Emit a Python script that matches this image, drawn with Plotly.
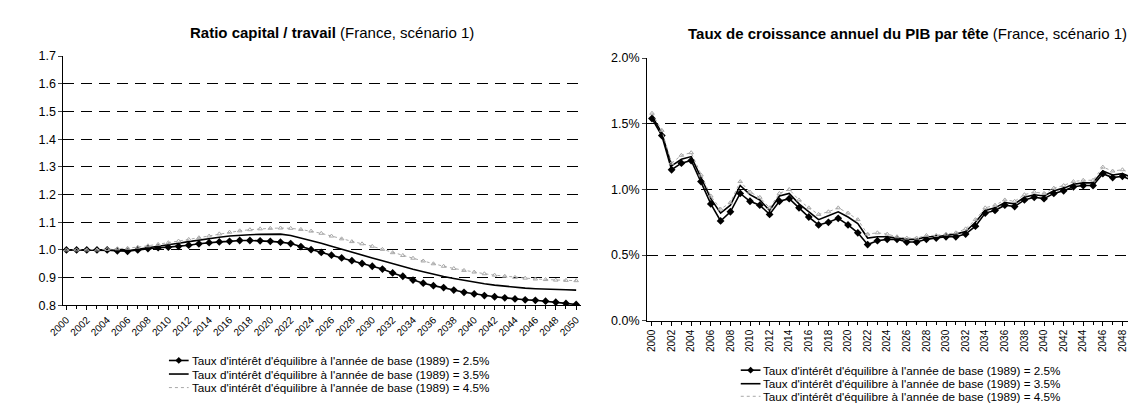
import plotly.graph_objects as go

years = list(range(2000, 2051))

# Ratio capital / travail
k25 = [1.000,1.000,1.000,1.000,1.000,0.997,0.995,1.000,1.005,1.008,
       1.010,1.013,1.017,1.022,1.026,1.029,1.031,1.034,1.034,1.033,
       1.031,1.028,1.023,1.012,1.001,0.991,0.981,0.971,0.961,0.951,
       0.941,0.931,0.917,0.905,0.891,0.880,0.871,0.864,0.855,0.847,
       0.841,0.835,0.831,0.827,0.823,0.820,0.818,0.815,0.811,0.807,
       0.803]
k35 = [1.000,1.000,1.000,1.000,1.000,0.998,0.997,1.002,1.008,1.013,
       1.018,1.024,1.030,1.036,1.041,1.046,1.050,1.053,1.055,1.056,
       1.057,1.057,1.052,1.043,1.034,1.024,1.013,1.002,0.992,0.982,
       0.971,0.961,0.950,0.940,0.930,0.921,0.912,0.904,0.897,0.890,
       0.884,0.878,0.873,0.869,0.865,0.862,0.860,0.858,0.857,0.856,
       0.855]
k45 = [1.000,1.000,1.000,1.000,1.002,1.004,1.006,1.010,1.015,1.020,
       1.026,1.032,1.038,1.044,1.050,1.058,1.064,1.069,1.073,1.076,
       1.078,1.079,1.078,1.074,1.068,1.060,1.050,1.040,1.030,1.022,
       1.013,1.002,0.990,0.980,0.970,0.960,0.950,0.941,0.933,0.926,
       0.920,0.914,0.909,0.905,0.901,0.898,0.895,0.893,0.891,0.890,
       0.889]

# Taux de croissance annuel du PIB par tête (%)
g25 = [1.54,1.41,1.15,1.20,1.22,1.06,0.89,0.76,0.83,0.97,
       0.91,0.88,0.81,0.91,0.93,0.86,0.79,0.73,0.75,0.78,
       0.73,0.67,0.58,0.61,0.62,0.62,0.60,0.60,0.62,0.63,
       0.64,0.64,0.66,0.72,0.82,0.84,0.88,0.87,0.92,0.94,
       0.93,0.97,0.99,1.02,1.03,1.03,1.12,1.09,1.10,1.07,
       1.09]
g35 = [1.56,1.43,1.18,1.23,1.25,1.09,0.93,0.82,0.88,1.03,
       0.96,0.92,0.84,0.95,0.97,0.89,0.83,0.77,0.80,0.83,
       0.79,0.74,0.63,0.64,0.64,0.63,0.62,0.62,0.64,0.64,
       0.65,0.66,0.68,0.75,0.84,0.86,0.90,0.89,0.94,0.96,
       0.95,0.99,1.01,1.04,1.05,1.05,1.14,1.11,1.12,1.09,
       1.11]
g45 = [1.58,1.45,1.20,1.26,1.28,1.11,0.95,0.85,0.90,1.06,
       0.98,0.94,0.86,0.97,1.00,0.92,0.86,0.81,0.83,0.86,
       0.82,0.77,0.66,0.67,0.66,0.64,0.63,0.63,0.65,0.65,
       0.66,0.67,0.70,0.77,0.86,0.88,0.92,0.91,0.96,0.98,
       0.97,1.01,1.03,1.06,1.07,1.07,1.17,1.14,1.15,1.12,
       1.13]

names = ["Taux d'intérêt d'équilibre à l'année de base (1989) = 2.5%",
         "Taux d'intérêt d'équilibre à l'année de base (1989) = 3.5%",
         "Taux d'intérêt d'équilibre à l'année de base (1989) = 4.5%"]

FONT = "Arial, Liberation Sans, sans-serif"
W, H = 1136, 404
GREY = "#a8a8a8"


def px_x(p):
    return p / W


def px_y(p):
    return (H - p) / H


fig = go.Figure()

styles = [
    dict(mode="lines+markers", line=dict(color="black", width=1.6),
         marker=dict(symbol="diamond", size=6, color="black")),
    dict(mode="lines", line=dict(color="black", width=1.6)),
    dict(mode="lines+markers", line=dict(color=GREY, width=1, dash="dot"),
         marker=dict(symbol="triangle-up-open", size=4, color=GREY)),
]

for ys, nm, st in zip([k25, k35, k45], names, styles):
    fig.add_trace(go.Scatter(x=years, y=ys, name=nm, xaxis="x", yaxis="y",
                             showlegend=False, **st))
for ys, nm, st in zip([g25, g35, g45], names, styles):
    fig.add_trace(go.Scatter(x=years, y=ys, name=nm, xaxis="x2", yaxis="y2",
                             showlegend=False, **st))

grid = dict(showgrid=True, gridcolor="black", gridwidth=1, griddash="11px,7px")
xcommon = dict(showline=True, linecolor="black", linewidth=1, showgrid=False,
               ticks="outside", ticklen=4, tickcolor="black", dtick=2, tick0=2000,
               minor=dict(dtick=1, ticks="outside", ticklen=3, tickcolor="black"),
               zeroline=False)

# Custom legends (compact rows, as in the original)
shapes = []
annotations = []


def add_legend(x0, rows_y):
    sym_w = 20
    for i, (nm, y) in enumerate(zip(names, rows_y)):
        yy = px_y(y)
        if i == 0:
            shapes.append(dict(type="line", xref="paper", yref="paper",
                               x0=px_x(x0), x1=px_x(x0 + sym_w), y0=yy, y1=yy,
                               line=dict(color="black", width=1.6)))
            cx, cy, r = x0 + sym_w / 2, y, 3.5
            path = "M {} {} L {} {} L {} {} L {} {} Z".format(
                px_x(cx), px_y(cy - r), px_x(cx + r), px_y(cy),
                px_x(cx), px_y(cy + r), px_x(cx - r), px_y(cy))
            shapes.append(dict(type="path", xref="paper", yref="paper", path=path,
                               fillcolor="black", line=dict(color="black", width=0)))
        elif i == 1:
            shapes.append(dict(type="line", xref="paper", yref="paper",
                               x0=px_x(x0), x1=px_x(x0 + sym_w), y0=yy, y1=yy,
                               line=dict(color="black", width=1.6)))
        else:
            shapes.append(dict(type="line", xref="paper", yref="paper",
                               x0=px_x(x0), x1=px_x(x0 + sym_w), y0=yy, y1=yy,
                               line=dict(color=GREY, width=1, dash="dot")))
        annotations.append(dict(text=nm, x=px_x(x0 + sym_w + 1), y=yy,
                                xref="paper", yref="paper", xanchor="left",
                                yanchor="middle", showarrow=False,
                                font=dict(size=11.7)))


add_legend(147, [358, 372, 386])
add_legend(727, [368, 382, 395])

annotations += [
    dict(text="<b>Ratio capital / travail</b> (France, scénario 1)",
         x=px_x(312), y=px_y(19), xref="paper", yref="paper",
         xanchor="center", yanchor="middle", showarrow=False,
         font=dict(size=15)),
    dict(text="<b>Taux de croissance annuel du PIB par tête</b> (France, scénario 1)",
         x=px_x(896), y=px_y(20), xref="paper", yref="paper",
         xanchor="center", yanchor="middle", showarrow=False,
         font=dict(size=15)),
]

fig.update_layout(
    width=W, height=H,
    margin=dict(l=0, r=0, t=0, b=0),
    paper_bgcolor="white", plot_bgcolor="white",
    font=dict(family=FONT, color="black", size=12),
    showlegend=False,
    xaxis=dict(domain=[px_x(40), px_x(565)], range=[1999.71, 2050.48], anchor="y",
               tickangle=-45, tickfont=dict(size=10), **xcommon),
    yaxis=dict(domain=[px_y(301), px_y(43)], range=[0.8, 1.7015], dtick=0.1,
               tickformat=".1f", anchor="x", showline=True, linecolor="black",
               ticks="outside", ticklen=4, tickfont=dict(size=12.5),
               zeroline=False, **grid),
    xaxis2=dict(domain=[px_x(632), 1.0], range=[1999.5, 2050.2], anchor="y2",
                tickangle=-90, tickfont=dict(size=10), **xcommon),
    yaxis2=dict(domain=[px_y(317), px_y(45)], range=[0, 2.004], dtick=0.5,
                tickformat=".1f", ticksuffix="%", anchor="x2", showline=True,
                linecolor="black", ticks="outside", ticklen=4,
                tickfont=dict(size=12.5), zeroline=False, **grid),
    shapes=shapes,
    annotations=annotations,
)

fig.write_html("out.html")
